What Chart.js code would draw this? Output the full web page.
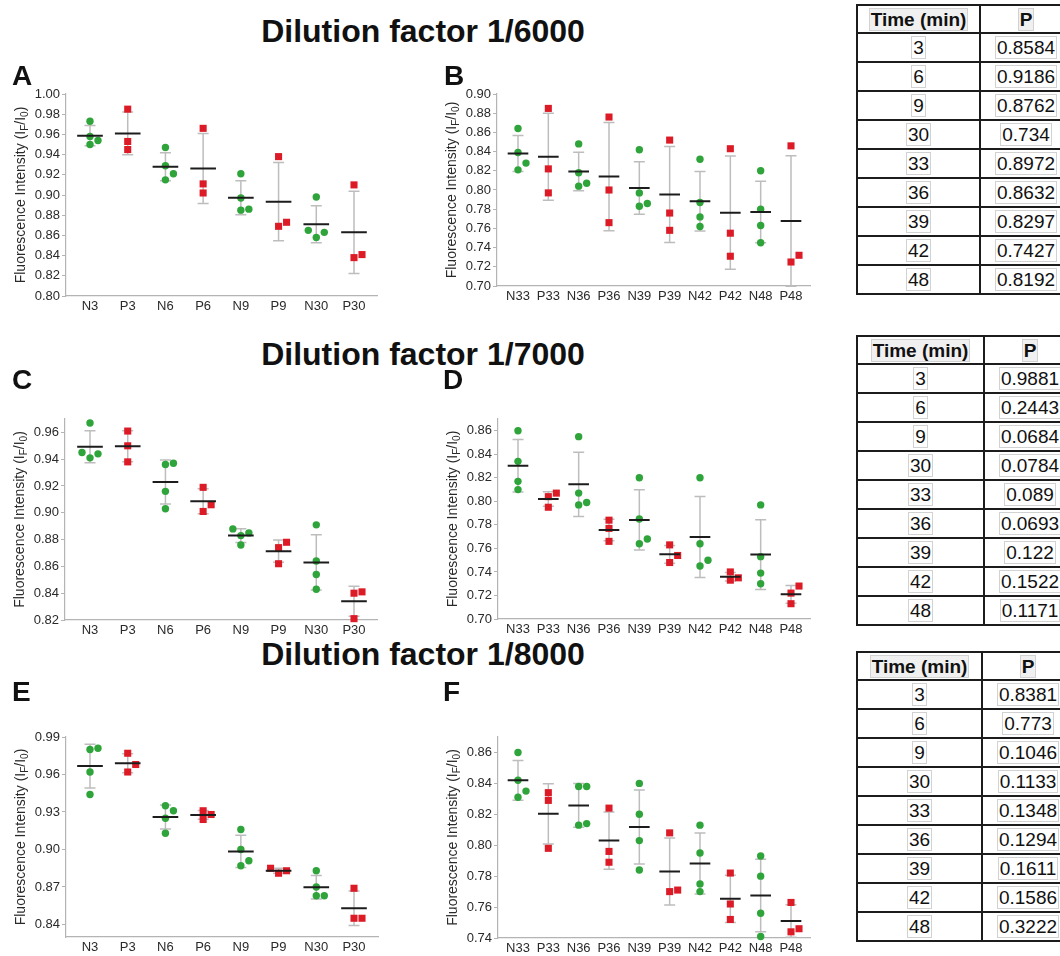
<!DOCTYPE html>
<html>
<head>
<meta charset="utf-8">
<script src="https://cdn.jsdelivr.net/npm/chart.js@4.4.1/dist/chart.umd.min.js"></script>
<style>
  html, body { margin: 0; padding: 0; background: #fff; overflow: hidden; }
  #page { position: relative; width: 1060px; height: 956px; overflow: hidden;
          font-family: "Liberation Sans", Arial, Helvetica, sans-serif; color: #111; }
  .title { position: absolute; left: 173px; width: 500px; text-align: center;
           font-weight: bold; font-size: 32px; line-height: 32px; white-space: nowrap; }
  .letter { position: absolute; font-weight: bold; font-size: 28px; line-height: 28px; }
  canvas.panel { position: absolute; }
  table.ptab { position: absolute; border-collapse: collapse; table-layout: fixed;
               font-size: 19px; border: 2px solid #1c1c1c; }
  table.ptab td { border: 2px solid #1c1c1c; padding: 0; height: 27px; text-align: center;
                  vertical-align: middle; line-height: 21px; white-space: nowrap; overflow: hidden; }
  table.ptab tr.head td { height: 26px; font-weight: bold; }
  table.ptab span { border: 1px solid #d2d2d2; padding: 0 1px; }
  table.ptab tr.head span { background: #f0f0f0; }
</style>
</head>
<body>
<div id="page"></div>
<script>
// ---------- categories ----------
const catsEarly = ['N3', 'P3', 'N6', 'P6', 'N9', 'P9', 'N30', 'P30'];
const catsLate  = ['N33', 'P33', 'N36', 'P36', 'N39', 'P39', 'N42', 'P42', 'N48', 'P48'];

// ---------- replicate values (I_F/I_0), one inner array per category ----------
const dil6000Early = [
  [0.973, 0.958, 0.954, 0.950], [0.985, 0.953, 0.945],
  [0.947, 0.929, 0.921, 0.915], [0.966, 0.911, 0.902],
  [0.921, 0.897, 0.886, 0.885], [0.938, 0.873, 0.869],
  [0.898, 0.865, 0.863, 0.858], [0.910, 0.841, 0.838]
];
const dil6000Late = [
  [0.864, 0.839, 0.828, 0.821], [0.885, 0.822, 0.797],
  [0.848, 0.818, 0.807, 0.804], [0.876, 0.800, 0.766],
  [0.842, 0.797, 0.786, 0.783], [0.852, 0.776, 0.758],
  [0.832, 0.787, 0.772, 0.762], [0.843, 0.755, 0.731],
  [0.820, 0.780, 0.763, 0.745], [0.846, 0.732, 0.725]
];
const dil7000Early = [
  [0.967, 0.945, 0.944, 0.941], [0.961, 0.950, 0.938],
  [0.936, 0.937, 0.916, 0.903], [0.919, 0.906, 0.901],
  [0.888, 0.885, 0.883, 0.876], [0.878, 0.874, 0.862],
  [0.891, 0.864, 0.854, 0.843], [0.841, 0.840, 0.821]
];
const dil7000Late = [
  [0.860, 0.834, 0.817, 0.810], [0.807, 0.804, 0.795],
  [0.855, 0.807, 0.799, 0.797], [0.784, 0.777, 0.766],
  [0.820, 0.785, 0.768, 0.764], [0.763, 0.754, 0.748],
  [0.820, 0.764, 0.750, 0.745], [0.740, 0.735, 0.733],
  [0.797, 0.753, 0.739, 0.730], [0.728, 0.722, 0.713]
];
const dil8000Early = [
  [0.981, 0.980, 0.962, 0.944], [0.977, 0.968, 0.962],
  [0.935, 0.931, 0.925, 0.913], [0.931, 0.928, 0.924],
  [0.916, 0.900, 0.891, 0.887], [0.885, 0.883, 0.881],
  [0.883, 0.870, 0.863, 0.863], [0.869, 0.845, 0.845]
];
const dil8000Late = [
  [0.860, 0.842, 0.835, 0.831], [0.834, 0.829, 0.798],
  [0.838, 0.838, 0.814, 0.813], [0.824, 0.796, 0.789],
  [0.840, 0.820, 0.803, 0.784], [0.808, 0.771, 0.770],
  [0.813, 0.795, 0.775, 0.770], [0.782, 0.762, 0.752],
  [0.793, 0.780, 0.756, 0.741], [0.763, 0.746, 0.744]
];

// ---------- y-axis tick labels ----------
const ticksA = [0.80, 0.82, 0.84, 0.86, 0.88, 0.90, 0.92, 0.94, 0.96, 0.98, 1.00];
const ticksB = [0.70, 0.72, 0.74, 0.76, 0.78, 0.80, 0.82, 0.84, 0.86, 0.88, 0.90];
const ticksC = [0.82, 0.84, 0.86, 0.88, 0.90, 0.92, 0.94, 0.96];
const ticksD = [0.70, 0.72, 0.74, 0.76, 0.78, 0.80, 0.82, 0.84, 0.86];
const ticksE = [0.84, 0.87, 0.90, 0.93, 0.96, 0.99];
const ticksF = [0.74, 0.76, 0.78, 0.80, 0.82, 0.84, 0.86];

// ---------- P-value tables ----------
const tableTimes = ['3', '6', '9', '30', '33', '36', '39', '42', '48'];
const pValues6000 = ['0.8584', '0.9186', '0.8762', '0.734', '0.8972', '0.8632', '0.8297', '0.7427', '0.8192'];
const pValues7000 = ['0.9881', '0.2443', '0.0684', '0.0784', '0.089', '0.0693', '0.122', '0.1522', '0.1171'];
const pValues8000 = ['0.8381', '0.773', '0.1046', '0.1133', '0.1348', '0.1294', '0.1611', '0.1586', '0.3222'];

// ---------- text ----------
const dilutionTitles = ['Dilution factor 1/6000', 'Dilution factor 1/7000', 'Dilution factor 1/8000'];
const yTitleParts = [['Fluorescence Intensity (I', false], ['F', true], ['/I', false], ['0', true], [')', false]];
const tableHeader = ['Time (min)', 'P'];

// ---------- styling ----------
const FONT = '"Liberation Sans", Arial, Helvetica, sans-serif';
const AXIS_COLOR = '#b4b4b4';
const TEXT_COLOR = '#2a2a2a';
const GREEN = '#2ea43a';
const RED = '#dc1b26';
const WHISKER = '#bdbdbd';
const MEAN_COLOR = '#1c1c1c';

const page = document.getElementById('page');

// panel layout (page pixels): plot box and first/last category centres
const panelDefs = [
  { letter: 'A', cats: catsEarly, groups: dil6000Early, yMin: 0.80, yMax: 1.00, ticks: ticksA,
    box: { left: 66, top: 94, right: 377, bottom: 296 }, firstX: 90, lastX: 354, letterPos: [12, 62] },
  { letter: 'B', cats: catsLate, groups: dil6000Late, yMin: 0.70, yMax: 0.90, ticks: ticksB,
    box: { left: 497, top: 94, right: 810, bottom: 286 }, firstX: 518, lastX: 791, letterPos: [444, 62] },
  { letter: 'C', cats: catsEarly, groups: dil7000Early, yMin: 0.82, yMax: 0.97, ticks: ticksC,
    box: { left: 65, top: 419, right: 377, bottom: 620 }, firstX: 90, lastX: 354, letterPos: [12, 366] },
  { letter: 'D', cats: catsLate, groups: dil7000Late, yMin: 0.70, yMax: 0.87, ticks: ticksD,
    box: { left: 498, top: 419, right: 810, bottom: 619 }, firstX: 518, lastX: 791, letterPos: [443, 366] },
  { letter: 'E', cats: catsEarly, groups: dil8000Early, yMin: 0.83, yMax: 0.99, ticks: ticksE,
    box: { left: 66, top: 737, right: 378, bottom: 937 }, firstX: 90, lastX: 354, letterPos: [12, 678] },
  { letter: 'F', cats: catsLate, groups: dil8000Late, yMin: 0.74, yMax: 0.87, ticks: ticksF,
    box: { left: 498, top: 737, right: 810, bottom: 938 }, firstX: 518, lastX: 791, letterPos: [443, 678] }
];

// section titles
const titleTops = [15, 338, 638];
dilutionTitles.forEach((t, i) => {
  const d = document.createElement('div');
  d.className = 'title';
  d.style.top = titleTops[i] + 'px';
  d.textContent = t;
  page.appendChild(d);
});

// rotated y-axis title with subscripts
const yTitlePlugin = {
  id: 'yTitle',
  afterDraw(chart) {
    const { ctx, chartArea } = chart;
    const big = '14px ' + FONT, small = '10px ' + FONT;
    ctx.save();
    ctx.translate(chartArea.left - 45, (chartArea.top + chartArea.bottom) / 2);
    ctx.rotate(-Math.PI / 2);
    ctx.fillStyle = TEXT_COLOR;
    ctx.textBaseline = 'middle';
    ctx.textAlign = 'left';
    let total = 0;
    const widths = yTitleParts.map(([t, sub]) => {
      ctx.font = sub ? small : big;
      const w = ctx.measureText(t).width;
      total += w;
      return w;
    });
    let x = -total / 2;
    yTitleParts.forEach(([t, sub], i) => {
      ctx.font = sub ? small : big;
      ctx.fillText(t, x, sub ? 4 : 0);
      x += widths[i];
    });
    ctx.restore();
  }
};

function stats(v) {
  const n = v.length;
  const m = v.reduce((a, b) => a + b, 0) / n;
  const sd = Math.sqrt(v.reduce((a, b) => a + (b - m) * (b - m), 0) / (n - 1));
  return { m, sd };
}

// spread overlapping points sideways (pixel offsets), lowest value first
function spreadOffsets(pix, step, minDist) {
  const idx = pix.map((p, i) => i).sort((a, b) => pix[b] - pix[a]);
  const placed = [];
  const off = new Array(pix.length).fill(0);
  for (const i of idx) {
    for (const k of [0, 1, -1, 2, -2, 3, -3]) {
      const dx = k * step;
      if (placed.every(p => Math.hypot(p.x - dx, p.y - pix[i]) >= minDist)) {
        off[i] = dx;
        placed.push({ x: dx, y: pix[i] });
        break;
      }
    }
  }
  return off;
}

function buildPanel(def) {
  const { cats, groups, box } = def;
  const n = cats.length;
  const pxPerUnit = (def.lastX - def.firstX) / (n - 1);
  const xMin = -(def.firstX - box.left) / pxPerUnit;
  const xMax = (n - 1) + (box.right - def.lastX) / pxPerUnit;

  const cLeft = Math.max(0, box.left - 66);
  const cTop = box.top - 14;
  const yWidth = box.left - cLeft;
  const padRight = 14;
  const xHeight = 26;
  const cW = box.right + padRight - cLeft;
  const cH = box.bottom + xHeight - cTop;

  const canvas = document.createElement('canvas');
  canvas.className = 'panel';
  canvas.width = cW; canvas.height = cH;
  canvas.style.left = cLeft + 'px';
  canvas.style.top = cTop + 'px';
  canvas.style.width = cW + 'px';
  canvas.style.height = cH + 'px';
  page.appendChild(canvas);

  const summary = groups.map(stats);
  const meanHalf = 0.34;

  const meanData = [], whiskerData = [];
  summary.forEach((s, i) => {
    meanData.push({ x: i - meanHalf, y: s.m }, { x: i + meanHalf, y: s.m }, { x: i, y: null });
    whiskerData.push({ x: i, y: s.m - s.sd }, { x: i, y: s.m + s.sd }, { x: i, y: null });
  });

  const pointsFor = (prefix) => {
    const out = [];
    groups.forEach((vals, i) => {
      if (cats[i][0] !== prefix) return;
      vals.forEach(v => out.push({ x: i, y: v, g: i }));
    });
    return out;
  };

  const tickFont = { family: FONT, size: 13 };

  const chart = new Chart(canvas, {
    type: 'scatter',
    data: {
      datasets: [
        { label: 'mean', data: meanData, showLine: true, spanGaps: false, borderColor: MEAN_COLOR,
          borderWidth: 2, pointRadius: 0, order: 0, clip: false },
        { label: 'N', data: pointsFor('N'), pointStyle: 'circle', pointRadius: 3.7,
          backgroundColor: GREEN, borderWidth: 0, order: 1, clip: false },
        { label: 'P', data: pointsFor('P'), pointStyle: 'rect', pointRadius: 5,
          backgroundColor: RED, borderWidth: 0, order: 1, clip: false },
        { label: 'sd', data: whiskerData, showLine: true, spanGaps: false, borderColor: WHISKER,
          borderWidth: 1.5, pointRadius: 0, order: 2, clip: false },
        { label: 'caps', data: [], showLine: true, spanGaps: false, borderColor: WHISKER,
          borderWidth: 1.5, pointRadius: 0, order: 2, clip: false }
      ]
    },
    options: {
      responsive: false,
      animation: false,
      devicePixelRatio: 1,
      events: [],
      layout: { padding: { left: 0, top: 14, right: padRight, bottom: 0 } },
      plugins: { legend: { display: false }, tooltip: { enabled: false } },
      scales: {
        x: {
          type: 'linear', min: xMin, max: xMax,
          afterBuildTicks: s => { s.ticks = cats.map((c, i) => ({ value: i })); },
          afterFit: s => { s.height = xHeight; },
          ticks: { callback: v => cats[v], font: tickFont, color: TEXT_COLOR, padding: 3,
                   autoSkip: false, maxRotation: 0 },
          grid: { display: false, drawTicks: false },
          border: { display: true, color: AXIS_COLOR, width: 1.2 }
        },
        y: {
          min: def.yMin, max: def.yMax,
          afterBuildTicks: s => { s.ticks = def.ticks.map(v => ({ value: v })); },
          afterFit: s => { s.width = yWidth; },
          ticks: { callback: v => v.toFixed(2), font: tickFont, color: TEXT_COLOR, padding: 2 },
          grid: { drawOnChartArea: false, drawTicks: true, tickLength: 4, color: AXIS_COLOR },
          border: { display: true, color: AXIS_COLOR, width: 1.2 }
        }
      }
    },
    plugins: [yTitlePlugin]
  });

  // place replicate points side by side where they would overlap, add whisker caps
  const xs = chart.scales.x, ys = chart.scales.y;
  const unit = xs.getPixelForValue(1) - xs.getPixelForValue(0);
  const capHalf = 5.5 / unit;
  const offsets = groups.map(vals => spreadOffsets(vals.map(v => ys.getPixelForValue(v)), 8, 7.6));
  [1, 2].forEach(di => {
    const counters = {};
    chart.data.datasets[di].data.forEach(p => {
      const k = counters[p.g] || 0;
      counters[p.g] = k + 1;
      p.x = p.g + offsets[p.g][k] / unit;
    });
  });
  const capData = [];
  summary.forEach((s, i) => {
    [s.m - s.sd, s.m + s.sd].forEach(y => {
      capData.push({ x: i - capHalf, y }, { x: i + capHalf, y }, { x: i, y: null });
    });
  });
  chart.data.datasets[4].data = capData;
  chart.update('none');

  const L = document.createElement('div');
  L.className = 'letter';
  L.style.left = def.letterPos[0] + 'px';
  L.style.top = def.letterPos[1] + 'px';
  L.textContent = def.letter;
  page.appendChild(L);
}

panelDefs.forEach(buildPanel);

// P-value tables
const tableDefs = [
  { values: pValues6000, left: 856, top: 4, col1: 123 },
  { values: pValues7000, left: 856, top: 335, col1: 127 },
  { values: pValues8000, left: 856, top: 651, col1: 125 }
];
tableDefs.forEach(def => {
  const t = document.createElement('table');
  t.className = 'ptab';
  t.style.left = def.left + 'px';
  t.style.top = def.top + 'px';
  t.style.width = (def.col1 + 92) + 'px';
  const cg = document.createElement('colgroup');
  [def.col1, 92].forEach(w => { const c = document.createElement('col'); c.style.width = w + 'px'; cg.appendChild(c); });
  t.appendChild(cg);
  const addRow = (cells, cls) => {
    const tr = document.createElement('tr');
    if (cls) tr.className = cls;
    cells.forEach(txt => {
      const td = document.createElement('td');
      const sp = document.createElement('span');
      sp.textContent = txt;
      td.appendChild(sp);
      tr.appendChild(td);
    });
    t.appendChild(tr);
  };
  addRow(tableHeader, 'head');
  tableTimes.forEach((tm, i) => addRow([tm, def.values[i]]));
  page.appendChild(t);
});
</script>
</body>
</html>
